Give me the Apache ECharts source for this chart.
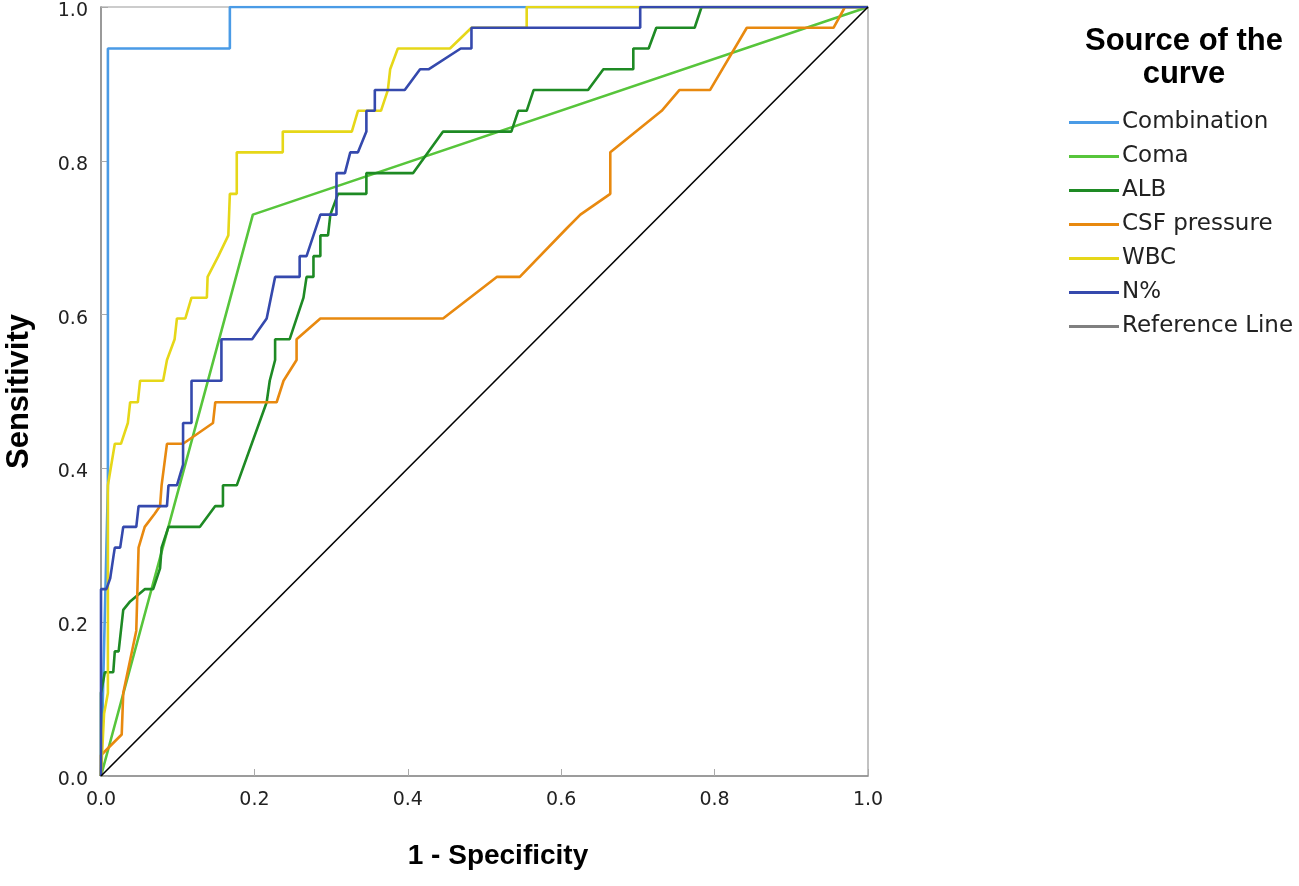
<!DOCTYPE html>
<html>
<head>
<meta charset="utf-8">
<title>ROC curves</title>
<script src="https://cdn.jsdelivr.net/npm/echarts@6/dist/echarts.min.js"></script>
<style>
  html, body { margin: 0; padding: 0; background: #fff; }
  #rocChart { width: 1299px; height: 886px; }
</style>
</head>
<body>
<div id="rocChart"></div>
<script>
// [1 - specificity, sensitivity] points
var combination = [
  [0, 0], [0.009, 0.378], [0.009, 0.946], [0.168, 0.946], [0.168, 1], [1, 1]
];
var coma = [
  [0, 0], [0.198, 0.730], [1, 1]
];
var alb = [
  [0, 0], [0, 0.108], [0.005, 0.135], [0.016, 0.135], [0.018, 0.162], [0.023, 0.162],
  [0.029, 0.216], [0.038, 0.227], [0.057, 0.243], [0.068, 0.243], [0.077, 0.270],
  [0.079, 0.297], [0.088, 0.324], [0.129, 0.324], [0.149, 0.351], [0.159, 0.351],
  [0.159, 0.378], [0.177, 0.378], [0.216, 0.486], [0.220, 0.514], [0.227, 0.541],
  [0.227, 0.568], [0.246, 0.568], [0.264, 0.622], [0.268, 0.649], [0.277, 0.649],
  [0.277, 0.676], [0.286, 0.676], [0.286, 0.703], [0.296, 0.703], [0.299, 0.730],
  [0.309, 0.757], [0.346, 0.757], [0.346, 0.784], [0.407, 0.784], [0.446, 0.838],
  [0.535, 0.838], [0.544, 0.865], [0.555, 0.865], [0.564, 0.892], [0.635, 0.892],
  [0.655, 0.919], [0.694, 0.919], [0.694, 0.946], [0.714, 0.946], [0.724, 0.973],
  [0.774, 0.973], [0.783, 1], [1, 1]
];
var csfPressure = [
  [0, 0], [0, 0.027], [0.027, 0.054], [0.029, 0.108], [0.046, 0.189], [0.049, 0.297],
  [0.057, 0.324], [0.070, 0.341], [0.077, 0.351], [0.079, 0.378], [0.086, 0.432],
  [0.107, 0.432], [0.146, 0.459], [0.149, 0.486], [0.229, 0.486], [0.238, 0.514],
  [0.255, 0.541], [0.255, 0.568], [0.286, 0.595], [0.446, 0.595], [0.516, 0.649],
  [0.546, 0.649], [0.607, 0.712], [0.625, 0.730], [0.664, 0.757], [0.664, 0.811],
  [0.731, 0.865], [0.754, 0.892], [0.794, 0.892], [0.842, 0.973], [0.955, 0.973],
  [0.970, 1], [1, 1]
];
var wbc = [
  [0, 0], [0.004, 0.081], [0.009, 0.108], [0.009, 0.378], [0.018, 0.432], [0.026, 0.432],
  [0.035, 0.459], [0.038, 0.486], [0.048, 0.486], [0.051, 0.514], [0.081, 0.514],
  [0.086, 0.541], [0.096, 0.568], [0.099, 0.595], [0.110, 0.595], [0.118, 0.622],
  [0.138, 0.622], [0.139, 0.649], [0.153, 0.676], [0.166, 0.703], [0.168, 0.757],
  [0.177, 0.757], [0.177, 0.811], [0.237, 0.811], [0.237, 0.838], [0.327, 0.838],
  [0.335, 0.865], [0.365, 0.865], [0.374, 0.892], [0.377, 0.919], [0.387, 0.946],
  [0.455, 0.946], [0.483, 0.973], [0.555, 0.973], [0.555, 1], [1, 1]
];
var nPercent = [
  [0, 0], [0, 0.243], [0.007, 0.243], [0.012, 0.257], [0.016, 0.284], [0.018, 0.297],
  [0.025, 0.297], [0.029, 0.324], [0.046, 0.324], [0.049, 0.351], [0.086, 0.351],
  [0.088, 0.378], [0.099, 0.378], [0.107, 0.405], [0.107, 0.459], [0.118, 0.459],
  [0.118, 0.514], [0.157, 0.514], [0.157, 0.568], [0.197, 0.568], [0.216, 0.595],
  [0.227, 0.649], [0.259, 0.649], [0.259, 0.676], [0.268, 0.676], [0.286, 0.730],
  [0.307, 0.730], [0.307, 0.784], [0.318, 0.784], [0.325, 0.811], [0.335, 0.811],
  [0.346, 0.838], [0.346, 0.865], [0.357, 0.865], [0.357, 0.892], [0.396, 0.892],
  [0.416, 0.919], [0.427, 0.919], [0.469, 0.946], [0.483, 0.946], [0.483, 0.973],
  [0.703, 0.973], [0.703, 1], [1, 1]
];
var referenceLine = [[0, 0], [1, 1]];

var curveNames = ['Combination', 'Coma', 'ALB', 'CSF pressure', 'WBC', 'N%', 'Reference Line'];
var curveData = [combination, coma, alb, csfPressure, wbc, nPercent, referenceLine];
var curveColors = ['#4a9be6', '#57c53b', '#1e8a24', '#e8890f', '#e6d718', '#3549ad', '#000000'];
var axisTicks = [0, 0.2, 0.4, 0.6, 0.8, 1.0];

var fontBold = '"Liberation Sans", Arial, sans-serif';
var fontText = '"DejaVu Sans", "Liberation Sans", sans-serif';

var chart = echarts.init(document.getElementById('rocChart'));

var series = [];
for (var i = 0; i < curveNames.length; i++) {
    series.push({
        name: curveNames[i],
        type: 'line',
        data: curveData[i],
        showSymbol: false,
        symbol: 'none',
        smooth: false,
        color: curveColors[i],
        lineStyle: {
            color: curveColors[i],
            width: i === 6 ? 1.6 : 2.6
        },
        z: 2 + i
    });
}

var legendData = curveNames.map(function (n, i) {
    var item = { name: n };
    if (i === 6) {
        item.lineStyle = { color: '#808080' };
        item.itemStyle = { color: '#808080' };
    }
    return item;
});

var option = {
    backgroundColor: '#ffffff',
    animation: false,
    title: {
        text: 'Source of the\ncurve',
        left: 1179,
        top: 20,
        textAlign: 'center',
        textStyle: {
            fontFamily: fontBold,
            fontSize: 31,
            fontWeight: 'bold',
            color: '#000',
            lineHeight: 33
        }
    },
    legend: {
        orient: 'vertical',
        left: 1064,
        top: 106,
        itemWidth: 50,
        itemHeight: 14,
        itemGap: 11,
        icon: 'path://M0,6 L50,6 L50,9 L0,9 Z',
        data: legendData,
        textStyle: {
            fontFamily: fontText,
            fontSize: 23,
            color: '#222',
            lineHeight: 23,
            padding: [0, 0, 0, -2]
        }
    },
    grid: {
        left: 101,
        top: 7,
        right: 431,
        bottom: 110,
        show: true,
        borderColor: '#9a9a9a',
        borderWidth: 1.2,
        containLabel: false,
        outerBoundsMode: 'none'
    },
    xAxis: {
        type: 'value',
        min: 0,
        max: 1,
        interval: 0.2,
        name: '1 - Specificity',
        nameLocation: 'middle',
        nameGap: 66,
        nameTextStyle: {
            fontFamily: fontBold,
            fontSize: 28,
            fontWeight: 'bold',
            color: '#000',
            padding: [0, 0, 0, 27]
        },
        axisLine: { show: true, lineStyle: { color: '#8c8c8c', width: 1.5 } },
        axisTick: { show: true, inside: true, length: 7, lineStyle: { color: '#aaaaaa' } },
        splitLine: { show: false },
        axisLabel: {
            fontFamily: fontText,
            fontSize: 19,
            color: '#222',
            margin: 15,
            formatter: function (v) {
                return axisTicks.indexOf(Math.round(v * 10) / 10) >= 0 ? v.toFixed(1) : '';
            }
        }
    },
    yAxis: {
        type: 'value',
        min: 0,
        max: 1,
        interval: 0.2,
        name: 'Sensitivity',
        nameLocation: 'middle',
        nameGap: 66,
        nameTextStyle: {
            fontFamily: fontBold,
            fontSize: 31,
            fontWeight: 'bold',
            color: '#000'
        },
        axisLine: { show: true, lineStyle: { color: '#8c8c8c', width: 1.5 } },
        axisTick: { show: true, inside: true, length: 7, lineStyle: { color: '#aaaaaa' } },
        splitLine: { show: false },
        axisLabel: {
            fontFamily: fontText,
            fontSize: 19,
            color: '#222',
            margin: 13,
            verticalAlign: 'top',
            lineHeight: 8,
            formatter: function (v) {
                return v.toFixed(1);
            }
        }
    },
    series: series
};

chart.setOption(option);
</script>
</body>
</html>
